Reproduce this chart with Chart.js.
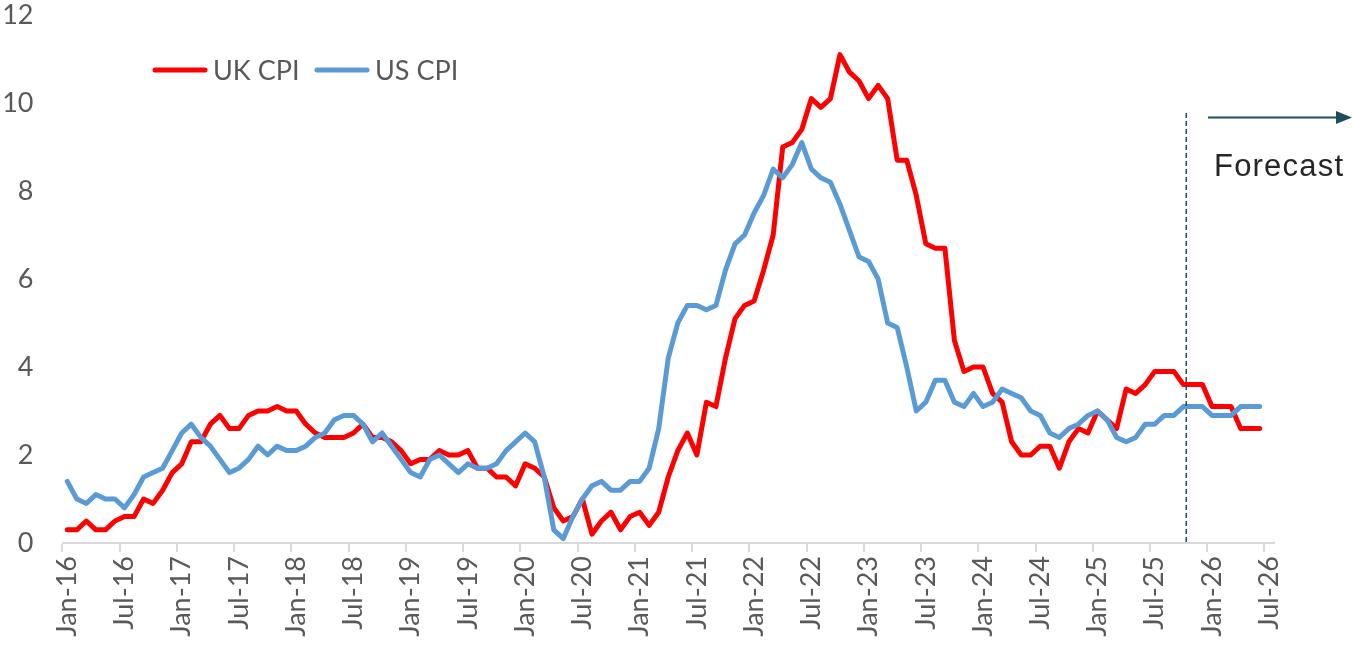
<!DOCTYPE html>
<html>
<head>
<meta charset="utf-8">
<script src="https://cdn.jsdelivr.net/npm/chart.js@4/dist/chart.umd.min.js"></script>
<style>
html,body{margin:0;padding:0;background:#ffffff;}
#wrap{width:1353px;height:649px;position:relative;}
</style>
</head>
<body>
<div id="wrap"><canvas id="c" width="1353" height="649"></canvas></div>
<script>
// ---- categories (Jan-16 .. Jul-26) ----
const monthNames = ['Jan','Feb','Mar','Apr','May','Jun','Jul','Aug','Sep','Oct','Nov','Dec'];
const yearsShort = ['16','17','18','19','20','21','22','23','24','25','26'];
const categories = [];
yearsShort.forEach(y => monthNames.forEach(m => categories.push(m + '-' + y)));
categories.length = 127;

// ---- tick labels shown on the axes ----
const shownTickMonths = ['Jan', 'Jul'];
const yTicks = [0, 2, 4, 6, 8, 10, 12];

// ---- series values (annual %, Jan-16 .. Jun-26) ----
const ukCPI = [
  0.3,0.3,0.5,0.3,0.3,0.5,0.6,0.6,1.0,0.9,1.2,1.6,
  1.8,2.3,2.3,2.7,2.9,2.6,2.6,2.9,3.0,3.0,3.1,3.0,
  3.0,2.7,2.5,2.4,2.4,2.4,2.5,2.7,2.4,2.4,2.3,2.1,
  1.8,1.9,1.9,2.1,2.0,2.0,2.1,1.7,1.7,1.5,1.5,1.3,
  1.8,1.7,1.5,0.8,0.5,0.6,1.0,0.2,0.5,0.7,0.3,0.6,
  0.7,0.4,0.7,1.5,2.1,2.5,2.0,3.2,3.1,4.2,5.1,5.4,
  5.5,6.2,7.0,9.0,9.1,9.4,10.1,9.9,10.1,11.1,10.7,10.5,
  10.1,10.4,10.1,8.7,8.7,7.9,6.8,6.7,6.7,4.6,3.9,4.0,
  4.0,3.4,3.2,2.3,2.0,2.0,2.2,2.2,1.7,2.3,2.6,2.5,
  3.0,2.8,2.6,3.5,3.4,3.6,3.9,3.9,3.9,3.6,3.6,3.6,
  3.1,3.1,3.1,2.6,2.6,2.6
];
const usCPI = [
  1.4,1.0,0.9,1.1,1.0,1.0,0.8,1.1,1.5,1.6,1.7,2.1,
  2.5,2.7,2.4,2.2,1.9,1.6,1.7,1.9,2.2,2.0,2.2,2.1,
  2.1,2.2,2.4,2.5,2.8,2.9,2.9,2.7,2.3,2.5,2.2,1.9,
  1.6,1.5,1.9,2.0,1.8,1.6,1.8,1.7,1.7,1.8,2.1,2.3,
  2.5,2.3,1.5,0.3,0.1,0.6,1.0,1.3,1.4,1.2,1.2,1.4,
  1.4,1.7,2.6,4.2,5.0,5.4,5.4,5.3,5.4,6.2,6.8,7.0,
  7.5,7.9,8.5,8.3,8.6,9.1,8.5,8.3,8.2,7.7,7.1,6.5,
  6.4,6.0,5.0,4.9,4.0,3.0,3.2,3.7,3.7,3.2,3.1,3.4,
  3.1,3.2,3.5,3.4,3.3,3.0,2.9,2.5,2.4,2.6,2.7,2.9,
  3.0,2.8,2.4,2.3,2.4,2.7,2.7,2.9,2.9,3.1,3.1,3.1,
  2.9,2.9,2.9,3.1,3.1,3.1
];
const seriesNames = ['UK CPI', 'US CPI'];
const forecastLabel = 'Forecast';
const forecastStartIndex = 117.3; // between Oct-25 and Nov-25

const labelFont = 'Lato, "Open Sans", sans-serif';
const grey = '#595959';
const axisGrey = '#d9d9d9';
const forecastColor = '#1f4e5a';

const overlay = {
  id: 'overlay',
  afterDatasetsDraw(chart) {
    const ctx = chart.ctx;
    const xs = chart.scales.x, ys = chart.scales.y;
    ctx.save();
    // dashed forecast divider
    const xf = xs.getPixelForValue(forecastStartIndex);
    ctx.strokeStyle = forecastColor;
    ctx.lineWidth = 1.5;
    ctx.setLineDash([5, 3]);
    ctx.beginPath();
    ctx.moveTo(xf, 113);
    ctx.lineTo(xf, ys.getPixelForValue(0));
    ctx.stroke();
    ctx.setLineDash([]);
    // arrow
    ctx.lineWidth = 2;
    ctx.beginPath();
    ctx.moveTo(1208, 117.5);
    ctx.lineTo(1338, 117.5);
    ctx.stroke();
    ctx.fillStyle = forecastColor;
    ctx.beginPath();
    ctx.moveTo(1352, 117.5);
    ctx.lineTo(1336, 111);
    ctx.lineTo(1336, 124);
    ctx.closePath();
    ctx.fill();
    // Forecast text
    ctx.fillStyle = '#262626';
    ctx.font = '31px "Liberation Sans", Arial, sans-serif';
    try { ctx.letterSpacing = '1.2px'; } catch(e) {}
    ctx.textAlign = 'left';
    ctx.textBaseline = 'alphabetic';
    ctx.fillText(forecastLabel, 1214, 176);
    try { ctx.letterSpacing = '0px'; } catch(e) {}
    // legend
    const items = [
      {ds: chart.data.datasets[0], x: 155},
      {ds: chart.data.datasets[1], x: 317}
    ];
    ctx.font = '27px ' + labelFont;
    ctx.textBaseline = 'middle';
    items.forEach(it => {
      ctx.strokeStyle = it.ds.borderColor;
      ctx.lineWidth = 5;
      ctx.lineCap = 'round';
      ctx.beginPath();
      ctx.moveTo(it.x, 70);
      ctx.lineTo(it.x + 50, 70);
      ctx.stroke();
      ctx.fillStyle = grey;
      ctx.fillText(it.ds.label, it.x + 58, 71);
    });
    ctx.restore();
  }
};

new Chart(document.getElementById('c'), {
  type: 'line',
  data: {
    labels: categories,
    datasets: [
      { label: seriesNames[0], data: ukCPI, borderColor: '#ff0000', backgroundColor: '#ff0000',
        borderWidth: 5, pointRadius: 0, tension: 0, borderJoinStyle: 'round', borderCapStyle: 'round', fill: false, order: 1 },
      { label: seriesNames[1], data: usCPI, borderColor: '#5b9bd5', backgroundColor: '#5b9bd5',
        borderWidth: 5, pointRadius: 0, tension: 0, borderJoinStyle: 'round', borderCapStyle: 'round', fill: false, order: 0 }
    ]
  },
  options: {
    responsive: false,
    devicePixelRatio: 1,
    animation: false,
    layout: { padding: { top: 15, right: 79, left: 0, bottom: 0 } },
    plugins: { legend: { display: false }, tooltip: { enabled: false } },
    scales: {
      x: {
        type: 'category',
        offset: true,
        grid: {
          offset: true,
          drawOnChartArea: false,
          drawTicks: true,
          tickLength: 9,
          lineWidth: 2,
          color: (c) => (c.index !== undefined && c.index % 6 === 0 && c.index < 127) ? axisGrey : 'rgba(0,0,0,0)'
        },
        border: { display: true, color: axisGrey, width: 2 },
        ticks: {
          autoSkip: false,
          maxRotation: 90,
          minRotation: 90,
          padding: 4,
          color: grey,
          font: { family: labelFont, size: 27 },
          callback: function(value) {
            const lab = this.getLabelForValue(value);
            return shownTickMonths.includes(lab.slice(0, 3)) ? lab : '';
          }
        },
        afterFit: (s) => { s.height = 106; s.paddingLeft = 0; s.paddingRight = 0; }
      },
      y: {
        min: 0,
        max: 12,
        grid: { display: false, drawTicks: false, tickLength: 0 },
        border: { display: false },
        afterBuildTicks: (s) => { s.ticks = yTicks.map(v => ({ value: v })); },
        ticks: {
          padding: 29,
          color: grey,
          font: { family: labelFont, size: 27, lineHeight: 1.1 }
        },
        afterFit: (s) => { s.width = 62.5; s.paddingTop = 0; s.paddingBottom = 0; }
      }
    }
  },
  plugins: [overlay]
});
</script>
</body>
</html>
